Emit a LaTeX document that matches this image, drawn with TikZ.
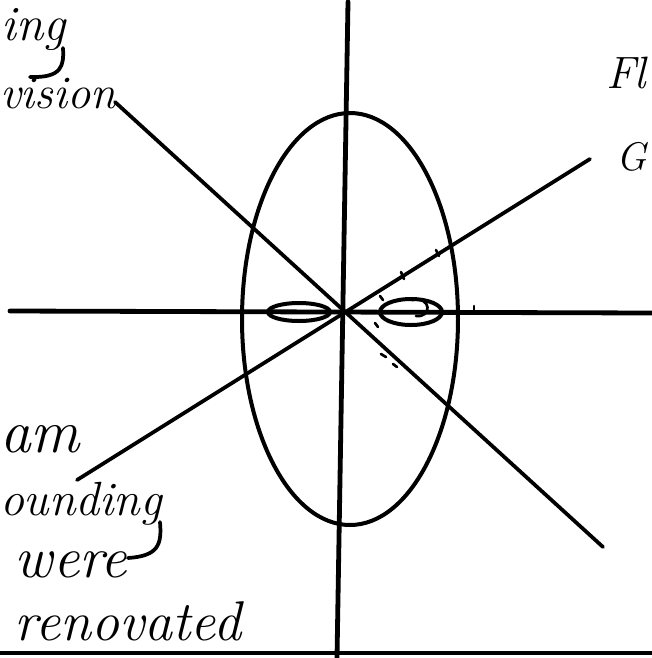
\documentclass[tikz,border=0pt]{standalone}
\usetikzlibrary{positioning}

\begin{document}
\begin{tikzpicture}[
  x=0.75pt, y=-0.75pt,
  every node/.style={inner sep=0pt, outer sep=0pt},
  hand/.style={font=\fontsize{38}{40}\selectfont\itshape, anchor=base west},
  axisline/.style={line width=3.6pt, line cap=round},
  penline/.style={line width=2.8pt, line cap=round},
  loopline/.style={line width=3pt},
  tickmark/.style={line width=2pt, line cap=round}
]
\useasboundingbox (0,0) rectangle (652,658);

% - axes -
\coordinate (vtop) at (348,2);
\coordinate (vbot) at (337,658);
\coordinate (hleft) at (10,311);
\coordinate (hright) at (652,313);
\coordinate (bleft) at (0,653);
\coordinate (bright) at (652,653);
\draw[axisline] (vtop) -- (vbot);
\draw[axisline] (hleft) -- (hright);
\draw[axisline] (bleft) -- (bright);

% - big ellipse and the two loops -
\coordinate (origin) at (350,319);
\draw[loopline] (origin) ellipse [x radius=108, y radius=206];
\coordinate (lloop) at (299,312);
\coordinate (rloop) at (411,312);
\draw[loopline] (lloop) ellipse [x radius=31, y radius=9];
\draw[loopline] (rloop) ellipse [x radius=31, y radius=13];
\draw[tickmark] (412,300) .. controls (432,296) and (432,318) .. (416,316);

% - labels -
\node[hand, font=\fontsize{37}{39}\selectfont\itshape] (ing) at (2,40) {ing};
\node[hand, font=\fontsize{35}{37}\selectfont\itshape] (vision) at (0,108) {vision};
\node[hand, font=\fontsize{34}{36}\selectfont\itshape] (fl) at (606,88) {Fl};
\node[hand, font=\fontsize{30}{32}\selectfont\itshape] (gg) at (616,170) {G};
\node[hand, font=\fontsize{46}{48}\selectfont\itshape] (am) at (0,452) {am};
\node[hand, font=\fontsize{36}{38}\selectfont\itshape] (ounding) at (0,515) {ounding};
\node[hand, font=\fontsize{44}{46}\selectfont\itshape] (were) at (15,577) {were};
\node[hand, font=\fontsize{42}{44}\selectfont\itshape] (renov) at (15,640) {renovated};

% - hooks from the g's -
\draw[penline] (63,48) .. controls (64,66) and (62,78) .. (30,77);
\draw[penline] (160,522) .. controls (162,545) and (158,556) .. (128,558);

% - the two slanted lines -
\coordinate (d1a) at (115,102);
\coordinate (d1b) at (603,547);
\coordinate (d2a) at (77,480);
\coordinate (d2b) at (590,159);
\draw[penline] (d1a) -- (d1b);
\draw[penline] (d2a) -- (d2b);

% - small marks near the lines -
\draw[tickmark] (436,250) -- (439,256);
\draw[tickmark] (401,272) -- (404,279);
\draw[tickmark] (380,296) -- (383,300);
\draw[tickmark] (375,323) -- (378,327);
\draw[tickmark] (381,354) -- (386,357);
\draw[tickmark] (393,364) -- (397,367);
\draw[tickmark] (474,306) -- (474,313);
\end{tikzpicture}
\end{document}
